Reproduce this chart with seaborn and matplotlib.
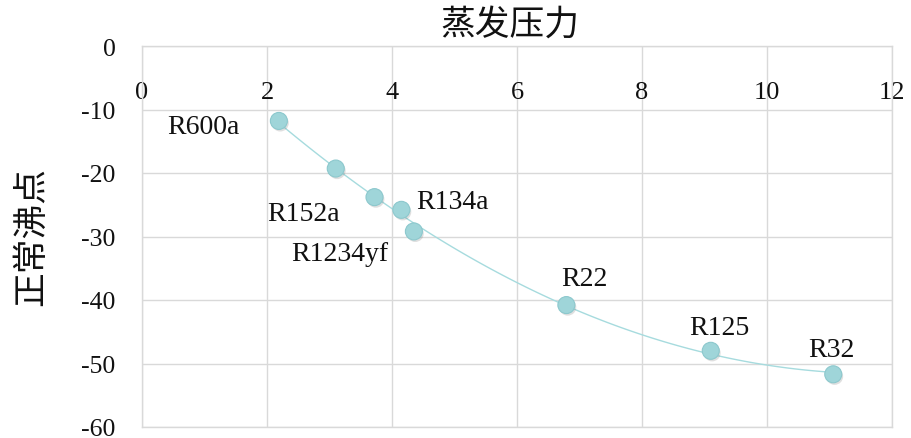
import matplotlib
matplotlib.use("Agg")
import matplotlib.pyplot as plt
import matplotlib.patheffects as pe
import seaborn as sns
import pandas as pd

# Evaporating pressure vs. normal boiling point of common refrigerants
pressure = [2.19, 3.10, 3.72, 4.15, 4.35, 6.79, 9.10, 11.06]
boiling = [-11.8, -19.3, -23.8, -25.8, -29.2, -40.8, -48.0, -51.7]
names = ["R600a", "", "R152a", "R134a", "R1234yf", "R22", "R125", "R32"]
# label offsets (points) from each marker
label_offsets = [(-54, -4), (0, 0), (-51, -12), (37, 6), (-53, -16),
                 (13, 19), (6, 17), (-1, 18)]

x_ticks = [0, 2, 4, 6, 8, 10, 12]
y_ticks = [0, -10, -20, -30, -40, -50, -60]

df = pd.DataFrame({"pressure": pressure, "boiling": boiling, "name": names})

sns.set_theme(style="white")
plt.rcParams["font.family"] = ["Liberation Serif", "Noto Sans CJK SC"]

fig = plt.figure(figsize=(9.11, 4.39), dpi=100)
ax = fig.add_axes([142 / 911, 1 - 428 / 439, (892 - 142) / 911, (428 - 47) / 439])

grid_c = "#d9d9d9"
marker_c = "#9fd5d9"
trend_c = "#a6dbde"

# second-order trendline through the points
sns.regplot(data=df, x="pressure", y="boiling", order=2, ci=None, scatter=False,
            truncate=True, ax=ax, line_kws=dict(color=trend_c, lw=1.0, zorder=2))

pts = sns.scatterplot(data=df, x="pressure", y="boiling", ax=ax, s=150,
                      color=marker_c, edgecolor="#8cc8cd", linewidth=0.8, zorder=4)
pts.collections[-1].set_path_effects([
    pe.SimplePatchShadow(offset=(1.0, -1.5), shadow_rgbFace="#707070", alpha=0.22),
    pe.Normal(),
])

for px, py, name, (dx, dy) in zip(pressure, boiling, names, label_offsets):
    if name:
        ax.annotate(name, (px, py), xytext=(dx, dy), textcoords="offset points",
                    ha="center", va="center", fontsize=20, color="#111111",
                    family="Liberation Serif", zorder=5)

ax.set_xlim(0, 12)
ax.set_ylim(-60, 0)
ax.set_xticks(x_ticks)
ax.set_yticks(y_ticks)
ax.set_xticklabels([str(v) for v in x_ticks])
ax.set_yticklabels([str(v) for v in y_ticks])
ax.set_xlabel("")
ax.set_ylabel("")
ax.grid(True, color=grid_c, lw=1.0)
ax.set_axisbelow(True)
for s in ax.spines.values():
    s.set_color(grid_c)
    s.set_linewidth(1.0)

ax.tick_params(axis="x", bottom=False, top=False, labelbottom=False, labeltop=True,
               pad=-47, labelsize=19, colors="#111111")
ax.tick_params(axis="y", left=False, length=0, pad=19, labelsize=18.5, colors="#111111")

cjk = ["Noto Sans CJK SC", "DejaVu Sans"]
fig.text(510 / 911, 1 - 25 / 439, "蒸发压力", ha="center", va="center",
         fontsize=25, family=cjk, fontweight="light", color="#111111")
fig.text(32 / 911, 1 - 236 / 439, "正常沸点", ha="center", va="center", rotation=90,
         fontsize=25, family=cjk, fontweight="light", color="#111111")

fig.savefig("out.png", dpi=100)
